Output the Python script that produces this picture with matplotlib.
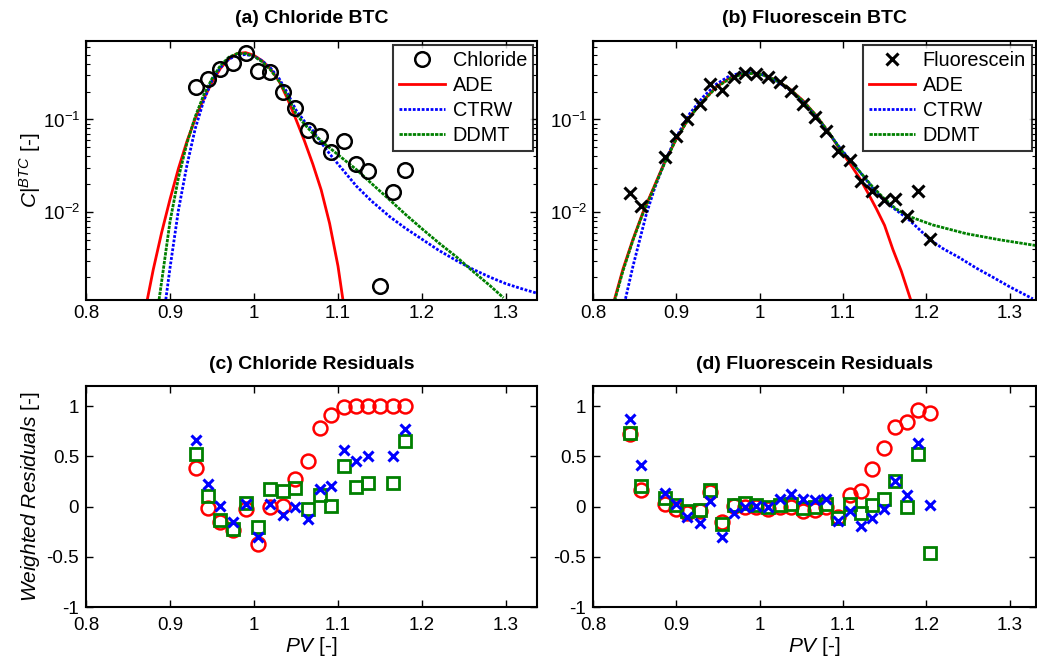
import numpy as np
import matplotlib
matplotlib.use('Agg')
import matplotlib.pyplot as plt
from matplotlib.ticker import LogLocator, NullFormatter, FixedLocator

plt.rcParams['font.family'] = ['Liberation Sans', 'DejaVu Sans']
plt.rcParams['mathtext.fontset'] = 'custom'
plt.rcParams['mathtext.rm'] = 'Liberation Sans'
plt.rcParams['mathtext.it'] = 'Liberation Sans:italic'
plt.rcParams['mathtext.bf'] = 'Liberation Sans:bold'
plt.rcParams['axes.unicode_minus'] = False

# ---------------- data: chloride BTC ----------------
cl_pv = [0.931, 0.945, 0.960, 0.975, 0.990, 1.005, 1.019, 1.034, 1.049, 1.064,
         1.079, 1.092, 1.107, 1.122, 1.136, 1.150, 1.166, 1.180]
cl_c = [0.225, 0.270, 0.352, 0.409, 0.524, 0.333, 0.324, 0.197, 0.132, 0.0767,
        0.0671, 0.0444, 0.0583, 0.0335, 0.0277, 0.00159, 0.0166, 0.0288]

cl_ade_pv = [0.873, 0.880, 0.890, 0.900, 0.910, 0.920, 0.930, 0.940, 0.950, 0.960,
             0.970, 0.980, 0.990, 1.000, 1.010, 1.020, 1.030, 1.040, 1.050, 1.060,
             1.070, 1.080, 1.090, 1.100, 1.106]
cl_ade_c = [0.00115, 0.0024, 0.00603, 0.0138, 0.0295, 0.0575, 0.102, 0.166, 0.251, 0.355,
            0.447, 0.513, 0.525, 0.490, 0.427, 0.347, 0.257, 0.166, 0.100, 0.0589,
            0.0331, 0.0174, 0.00759, 0.00263, 0.00112]

cl_ctrw_pv = [0.895, 0.900, 0.910, 0.920, 0.930, 0.940, 0.950, 0.960, 0.970, 0.980,
              0.990, 1.000, 1.010, 1.020, 1.030, 1.040, 1.050, 1.060, 1.070, 1.080,
              1.090, 1.100, 1.122, 1.140, 1.162, 1.180, 1.200, 1.220, 1.241, 1.260,
              1.281, 1.300, 1.321, 1.340]
cl_ctrw_c = [0.00115, 0.00251, 0.0105, 0.0316, 0.0794, 0.158, 0.263, 0.363, 0.447, 0.490,
             0.501, 0.479, 0.427, 0.355, 0.275, 0.191, 0.126, 0.0955, 0.0759, 0.0562,
             0.0427, 0.0331, 0.0191, 0.0132, 0.00891, 0.00676, 0.00513, 0.00389, 0.00302, 0.00245,
             0.0020, 0.0017, 0.00148, 0.00132]

cl_ddmt_pv = [0.887, 0.890, 0.900, 0.910, 0.920, 0.930, 0.940, 0.950, 0.960, 0.970,
              0.980, 0.990, 1.000, 1.010, 1.020, 1.030, 1.040, 1.050, 1.060, 1.070,
              1.0825, 1.100, 1.122, 1.140, 1.162, 1.180, 1.2016, 1.220, 1.241, 1.260,
              1.281, 1.297]
cl_ddmt_c = [0.00115, 0.00178, 0.00794, 0.0234, 0.0550, 0.107, 0.182, 0.275, 0.380, 0.468,
             0.513, 0.513, 0.479, 0.417, 0.339, 0.257, 0.178, 0.115, 0.0891, 0.0708,
             0.0562, 0.0417, 0.0288, 0.0204, 0.0135, 0.00955, 0.00646, 0.00468, 0.00331, 0.00234,
             0.00162, 0.0012]

# ---------------- data: fluorescein BTC ----------------
fl_pv = [0.844, 0.858, 0.886, 0.900, 0.913, 0.928, 0.941, 0.955, 0.969, 0.983,
         0.996, 1.010, 1.024, 1.038, 1.052, 1.066, 1.080, 1.094, 1.108, 1.122,
         1.135, 1.149, 1.163, 1.177, 1.190, 1.204]
fl_c = [0.0162, 0.0117, 0.0398, 0.0661, 0.102, 0.145, 0.243, 0.209, 0.290, 0.318,
        0.310, 0.285, 0.255, 0.202, 0.148, 0.107, 0.076, 0.046, 0.037, 0.022,
        0.0171, 0.0137, 0.0140, 0.0091, 0.0171, 0.0052]

fl_ade_pv = [0.826, 0.836, 0.848, 0.860, 0.874, 0.886, 0.900, 0.916, 0.932, 0.948,
             0.964, 0.980, 0.992, 1.004, 1.020, 1.036, 1.052, 1.068, 1.084, 1.096,
             1.108, 1.120, 1.130, 1.140, 1.150, 1.160, 1.170, 1.181]
fl_ade_c = [0.00117, 0.00245, 0.00513, 0.0100, 0.0195, 0.0347, 0.0617, 0.107, 0.158, 0.224,
            0.280, 0.311, 0.316, 0.303, 0.264, 0.214, 0.160, 0.110, 0.0701, 0.0483,
            0.0339, 0.0234, 0.0162, 0.0110, 0.00724, 0.00398, 0.00234, 0.00117]

fl_ctrw_pv = [0.839, 0.848, 0.856, 0.864, 0.874, 0.886, 0.900, 0.916, 0.932, 0.948,
              0.964, 0.980, 0.992, 1.004, 1.020, 1.036, 1.052, 1.068, 1.084, 1.096,
              1.108, 1.120, 1.135, 1.148, 1.163, 1.178, 1.190, 1.204, 1.220, 1.240,
              1.260, 1.280, 1.300, 1.328]
fl_ctrw_c = [0.00117, 0.00263, 0.00501, 0.00955, 0.0182, 0.0347, 0.0646, 0.115, 0.174, 0.240,
             0.295, 0.320, 0.320, 0.302, 0.260, 0.209, 0.155, 0.107, 0.0692, 0.0501,
             0.0372, 0.0275, 0.0186, 0.0138, 0.0107, 0.00851, 0.00676, 0.00513, 0.00407, 0.00324,
             0.00251, 0.0020, 0.00158, 0.00117]

fl_ddmt_pv = [0.826, 0.836, 0.848, 0.860, 0.874, 0.886, 0.900, 0.916, 0.932, 0.948,
              0.964, 0.980, 0.992, 1.004, 1.020, 1.036, 1.052, 1.068, 1.084, 1.096,
              1.108, 1.122, 1.135, 1.148, 1.163, 1.178, 1.208, 1.248, 1.288, 1.340]
fl_ddmt_c = [0.00112, 0.00234, 0.00501, 0.00977, 0.0191, 0.0339, 0.0617, 0.106, 0.158, 0.221,
             0.275, 0.309, 0.313, 0.302, 0.263, 0.214, 0.158, 0.110, 0.0708, 0.0490,
             0.0363, 0.0263, 0.0191, 0.0145, 0.0110, 0.00912, 0.0073, 0.00589, 0.00506, 0.00427]

# ---------------- data: weighted residuals ----------------
cl_res_ade = [0.383, -0.013, -0.157, -0.233, -0.023, -0.373, 0.0, 0.01, 0.277, 0.453,
              0.777, 0.91, 0.987, 1.0, 1.0, 1.0, 1.0, 1.0]
cl_res_ctrw = [0.66, 0.227, 0.003, -0.157, 0.027, -0.307, 0.027, -0.083, -0.007, -0.123,
               0.177, 0.2, 0.56, 0.453, 0.5, np.nan, 0.5, 0.77]
cl_res_ddmt = [0.527, 0.1, -0.133, -0.223, 0.033, -0.2, 0.17, 0.15, 0.183, -0.023,
               0.117, 0.003, 0.4, 0.19, 0.233, np.nan, 0.233, 0.653]

fl_res_ade = [0.727, 0.16, 0.027, -0.023, -0.063, -0.047, 0.143, -0.157, 0.01, 0.0,
              0.0, -0.023, -0.007, 0.0, -0.04, -0.033, 0.0, -0.1, 0.11, 0.15,
              0.37, 0.58, 0.787, 0.837, 0.96, 0.935]
fl_res_ctrw = [0.867, 0.41, 0.137, 0.027, -0.107, -0.167, 0.053, -0.30, -0.067, -0.007,
               0.01, 0.0, 0.077, 0.12, 0.077, 0.067, 0.077, -0.14, -0.04, -0.197,
               -0.113, -0.023, 0.253, 0.117, 0.633, 0.02]
fl_res_ddmt = [0.737, 0.20, 0.087, 0.02, -0.047, -0.033, 0.16, -0.173, 0.02, 0.033,
               0.02, -0.007, 0.02, 0.027, -0.017, 0.0, 0.027, -0.11, 0.027, -0.067,
               0.02, 0.077, 0.253, 0.0, 0.52, -0.467]

x_ticks = [0.8, 0.9, 1.0, 1.1, 1.2, 1.3]
x_ticklabels = ['0.8', '0.9', '1', '1.1', '1.2', '1.3']
res_ticks = [-1, -0.5, 0, 0.5, 1]
res_ticklabels = ['-1', '-0.5', '0', '0.5', '1']

# ---------------- figure ----------------
W, H = 1037, 665
fig = plt.figure(figsize=(W / 100, H / 100), dpi=100)

def px_axes(l, t, r, b):
    return fig.add_axes([l / W, 1 - b / H, (r - l) / W, (b - t) / H])

FS = 13.5
RED, BLUE, GREEN = '#ff0000', '#0000ff', '#008000'

def style(ax, xmax):
    ax.set_xlim(0.8, xmax)
    ax.set_xticks(x_ticks)
    ax.set_xticklabels(x_ticklabels)
    ax.tick_params(direction='in', top=True, right=True, labelsize=FS,
                   length=5, width=1.0, pad=4)
    ax.tick_params(which='minor', direction='in', top=False, right=True,
                   length=3, width=0.8)
    for s in ax.spines.values():
        s.set_linewidth(1.5)

def btc(ax, pv, c, mk, label, xmax, curves):
    if mk == 'o':
        ax.plot(pv, c, 'o', ms=10.5, mfc='none', mec='k', mew=1.8, label=label, zorder=3)
    else:
        ax.plot(pv, c, 'x', ms=9, mec='k', mew=2.2, label=label, zorder=3)
    (ax_, ac), (bx, bc), (gx, gc) = curves
    ax.plot(ax_, ac, '-', color=RED, lw=2.0, label='ADE', zorder=2)
    ax.plot(bx, bc, color=BLUE, lw=2.0, ls=(0, (1, 0.6)), label='CTRW', zorder=2)
    ax.plot(gx, gc, color=GREEN, lw=2.0, ls=(0, (1.2, 0.4)), label='DDMT', zorder=2)
    ax.set_yscale('log')
    ax.set_ylim(1.15e-3, 0.70)
    ax.yaxis.set_major_locator(FixedLocator([0.01, 0.1]))
    ax.yaxis.set_minor_locator(LogLocator(base=10, subs=np.arange(2, 10)))
    ax.yaxis.set_minor_formatter(NullFormatter())
    style(ax, xmax)
    leg = ax.legend(loc='upper right', fontsize=FS + 0.8, frameon=True, fancybox=False,
                    edgecolor='k', borderaxespad=0.2, handlelength=2.3,
                    labelspacing=0.3, borderpad=0.3, handletextpad=0.4, numpoints=1)
    leg.get_frame().set_linewidth(1.5)

def resid(ax, pv, r_ade, r_ctrw, r_ddmt, xmax):
    ax.plot(pv, r_ade, 'o', ms=10, mfc='none', mec=RED, mew=1.8)
    ax.plot(pv, r_ddmt, 's', ms=8, mfc='none', mec=GREEN, mew=2.0)
    ax.plot(pv, r_ctrw, 'x', ms=7.5, mec=BLUE, mew=2.2)
    ax.set_ylim(-1, 1.2)
    ax.set_yticks(res_ticks)
    ax.set_yticklabels(res_ticklabels)
    style(ax, xmax)
    ax.tick_params(axis='x', pad=7)
    ax.tick_params(axis='y', pad=5)
    ax.set_xlabel(r'$PV$ [-]', fontsize=FS + 1.5, labelpad=1)

XL = 0.8 + (537 - 86) / 840.0
XR = 0.8 + (1036 - 593) / 833.0

ax_a = px_axes(86, 41, 537, 299.5)
btc(ax_a, cl_pv, cl_c, 'o', 'Chloride', XL,
    [(cl_ade_pv, cl_ade_c), (cl_ctrw_pv, cl_ctrw_c), (cl_ddmt_pv, cl_ddmt_c)])
ax_a.set_title('(a) Chloride BTC', fontsize=FS + 0.5, fontweight='bold', pad=13)
ax_a.set_ylabel(r'$C|^{BTC}$ [-]', fontsize=FS + 1.5, labelpad=0)

ax_b = px_axes(593, 41, 1036, 299.5)
btc(ax_b, fl_pv, fl_c, 'x', 'Fluorescein', XR,
    [(fl_ade_pv, fl_ade_c), (fl_ctrw_pv, fl_ctrw_c), (fl_ddmt_pv, fl_ddmt_c)])
ax_b.set_title('(b) Fluorescein BTC', fontsize=FS + 0.5, fontweight='bold', pad=13)

ax_c = px_axes(86, 386, 537, 607)
resid(ax_c, cl_pv, cl_res_ade, cl_res_ctrw, cl_res_ddmt, XL)
ax_c.set_title('(c) Chloride Residuals', fontsize=FS + 0.5, fontweight='bold', pad=12)
ax_c.set_ylabel(r'$Weighted\ Residuals$ [-]', fontsize=FS + 1.5, labelpad=3)

ax_d = px_axes(593, 386, 1036, 607)
resid(ax_d, fl_pv, fl_res_ade, fl_res_ctrw, fl_res_ddmt, XR)
ax_d.set_title('(d) Fluorescein Residuals', fontsize=FS + 0.5, fontweight='bold', pad=12)

fig.savefig('out.png', dpi=100)
